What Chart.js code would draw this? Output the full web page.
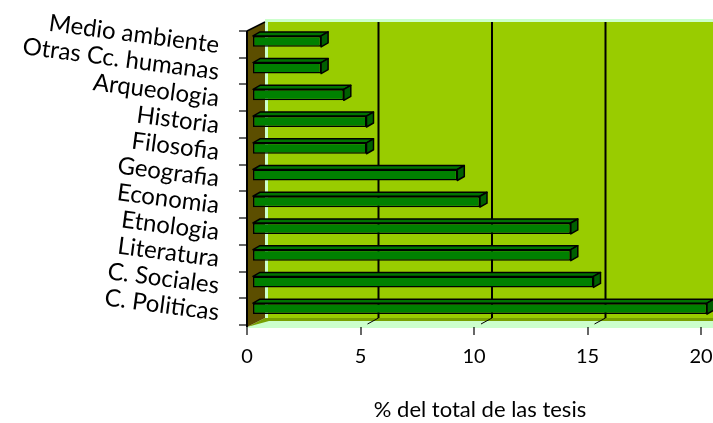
<!DOCTYPE html>
<html>
<head>
<meta charset="utf-8">
<script src="https://cdn.jsdelivr.net/npm/chart.js@4.4.1/dist/chart.umd.min.js"></script>
<style>
  html, body { margin: 0; padding: 0; background: #fff; }
  #wrap { width: 713px; height: 423px; }
</style>
</head>
<body>
<div id="wrap"><canvas id="tesis"></canvas></div>
<script>
var categories = ["Medio ambiente", "Otras Cc. humanas", "Arqueologia", "Historia", "Filosofia", "Geografia", "Economia", "Etnologia", "Literatura", "C. Sociales", "C. Politicas"];
var porcentajes = [3, 3, 4, 5, 5, 9, 10, 14, 14, 15, 20];
var xTicks = [0, 5, 10, 15, 20];

// 3d offsets (back wall, bar depth, axis plane)
var backDx = 12, backDy = -6;
var barDx = 7, barDy = -4;
var axisDx = -6, axisDy = 3;

var box3d = {
    id: 'box3d',
    beforeDatasetsDraw: function(chart) {
        var ctx = chart.ctx;
        var a = chart.chartArea;
        var xs = chart.scales.x;
        var left = a.left + axisDx, bottom = a.bottom + axisDy + 2;
        var bl = a.left + backDx, bt = a.top + backDy, bb = a.bottom + axisDy + backDy - 1;
        ctx.save();
        // floor
        ctx.fillStyle = '#ccffcc';
        ctx.beginPath();
        ctx.moveTo(left, bottom + 1);
        ctx.lineTo(bl, bb);
        ctx.lineTo(chart.width, bb);
        ctx.lineTo(chart.width, bottom + 1);
        ctx.closePath();
        ctx.fill();
        ctx.fillStyle = '#77a000';
        ctx.beginPath();
        ctx.moveTo(left, bottom);
        ctx.lineTo(bl, bb);
        ctx.lineTo(chart.width, bb);
        ctx.lineTo(chart.width, bb + 3);
        ctx.lineTo(bl + 4, bb + 3);
        ctx.closePath();
        ctx.fill();
        // back wall
        ctx.fillStyle = '#ccffcc';
        ctx.fillRect(bl, bt - 3, chart.width - bl, bb - bt + 3);
        ctx.fillStyle = '#99cc00';
        ctx.fillRect(bl + 3, bt, chart.width - bl - 3, bb - bt);
        // left wall
        ctx.fillStyle = '#5c4e00';
        ctx.beginPath();
        ctx.moveTo(left, a.top + axisDy);
        ctx.lineTo(bl, bt);
        ctx.lineTo(bl, bb);
        ctx.lineTo(left, bottom);
        ctx.closePath();
        ctx.fill();
        ctx.strokeStyle = '#000';
        ctx.lineWidth = 1.5;
        ctx.beginPath();
        ctx.moveTo(left, a.top + axisDy);
        ctx.lineTo(bl, bt);
        ctx.stroke();
        // gridlines on the back wall
        ctx.lineWidth = 2;
        xTicks.forEach(function(v) {
            if (v === 0 || v === 20) return;
            var x = xs.getPixelForValue(v);
            ctx.beginPath();
            ctx.moveTo(x + backDx, bt);
            ctx.lineTo(x + backDx, bb);
            ctx.stroke();
            ctx.lineWidth = 1;
            ctx.beginPath();
            ctx.moveTo(x + 1, bb + 6);
            ctx.lineTo(x + backDx, bb);
            ctx.stroke();
            ctx.lineWidth = 2;
        });
        ctx.restore();
    },
    afterDatasetsDraw: function(chart) {
        var ctx = chart.ctx;
        var a = chart.chartArea;
        var xs = chart.scales.x;
        var meta = chart.getDatasetMeta(0);
        ctx.save();
        ctx.strokeStyle = '#000';
        ctx.lineWidth = 1.5;
        ctx.lineJoin = 'round';
        meta.data.forEach(function(bar) {
            var p = bar.getProps(['x', 'y', 'base', 'height'], true);
            var x0 = p.base, x1 = p.x, t = p.y - p.height / 2, b = p.y + p.height / 2;
            // top face
            ctx.fillStyle = '#007300';
            ctx.beginPath();
            ctx.moveTo(x0, t);
            ctx.lineTo(x0 + barDx, t + barDy);
            ctx.lineTo(x1 + barDx, t + barDy);
            ctx.lineTo(x1, t);
            ctx.closePath();
            ctx.fill();
            ctx.stroke();
            // side face
            ctx.fillStyle = '#006000';
            ctx.beginPath();
            ctx.moveTo(x1, t);
            ctx.lineTo(x1 + barDx, t + barDy);
            ctx.lineTo(x1 + barDx, b + barDy);
            ctx.lineTo(x1, b);
            ctx.closePath();
            ctx.fill();
            ctx.stroke();
        });
        // axis line and tick marks
        var left = a.left + axisDx;
        var bottom = a.bottom + axisDy + 2;
        ctx.lineWidth = 2;
        ctx.beginPath();
        ctx.moveTo(left, a.top + axisDy);
        ctx.lineTo(left, bottom);
        ctx.stroke();
        ctx.lineWidth = 1.2;
        var band = (a.bottom - a.top) / categories.length;
        for (var k = 0; k <= categories.length; k++) {
            var y = Math.round(a.top + axisDy + k * band);
            ctx.beginPath();
            ctx.moveTo(left - 8, y);
            ctx.lineTo(left, y);
            ctx.stroke();
        }
        xTicks.forEach(function(v) {
            var x = Math.round(xs.getPixelForValue(v) + axisDx);
            ctx.beginPath();
            ctx.moveTo(x, bottom);
            ctx.lineTo(x, bottom + 8);
            ctx.stroke();
        });
        ctx.restore();
    }
};

var tesisChart = new Chart(document.getElementById("tesis").getContext("2d"), {
    type: 'bar',
    data: {
        labels: categories,
        datasets: [{
            data: porcentajes,
            backgroundColor: '#008000',
            borderColor: '#000',
            borderWidth: 1.5,
            borderSkipped: false,
            barPercentage: 0.82,
            categoryPercentage: 0.5
        }]
    },
    options: {
        indexAxis: 'y',
        responsive: true,
        maintainAspectRatio: false,
        animation: false,
        layout: {
            padding: { left: 0, right: 6, top: 28, bottom: 0 }
        },
        plugins: {
            legend: { display: false },
            tooltip: { enabled: false }
        },
        scales: {
            x: {
                min: 0,
                max: 20,
                afterFit: function(s) { s.height = 101; s.paddingLeft = 0; s.paddingRight = 0; },
                afterBuildTicks: function(s) { s.ticks = xTicks.map(function(v) { return { value: v }; }); },
                grid: { display: false, drawTicks: false },
                border: { display: false },
                ticks: {
                    padding: 23,
                    labelOffset: -6,
                    color: '#000',
                    font: { family: 'Lato', size: 20 }
                },
                title: {
                    display: true,
                    text: '% del total de las tesis',
                    color: '#000',
                    font: { family: 'Lato', size: 22 },
                    padding: { top: 0, bottom: 0 }
                }
            },
            y: {
                afterFit: function(s) { s.width = 253; s.paddingTop = 0; s.paddingBottom = 0; },
                grid: { display: false, drawTicks: false },
                border: { display: false },
                ticks: {
                    autoSkip: false,
                    padding: 34,
                    labelOffset: 4,
                    minRotation: -7.5,
                    maxRotation: -7.5,
                    color: '#000',
                    font: { family: 'Lato', size: 24 }
                }
            }
        }
    },
    plugins: [box3d]
});
</script>
</body>
</html>
